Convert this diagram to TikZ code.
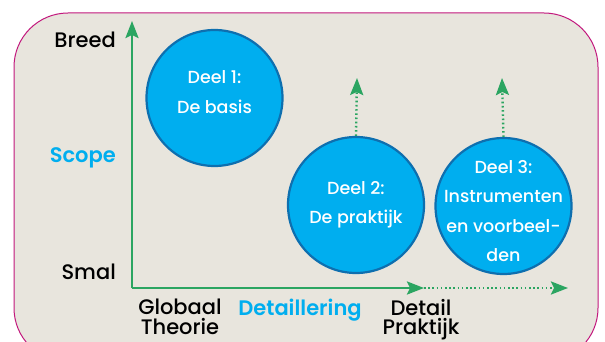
\documentclass[tikz,border=0pt]{standalone}
\usepackage{fontspec}
\setmainfont{Poppins}[UprightFont=* Medium, BoldFont=* SemiBold]
\usetikzlibrary{arrows.meta}
\definecolor{framefill}{HTML}{E8E5DD}
\definecolor{frameline}{HTML}{C2187D}
\definecolor{axisgreen}{HTML}{2BA561}
\definecolor{cyanblue}{HTML}{00AEEF}
\definecolor{circline}{HTML}{0E6FAF}
\tikzset{
  axis/.style={draw=axisgreen, line width=2.6pt},
  dotaxis/.style={draw=axisgreen, line width=2.4pt, dash pattern=on 1.6pt off 2.6pt},
  tip/.style={-{Stealth[length=17pt,width=13pt,inset=3pt]}},
  deel/.style={circle, fill=cyanblue, draw=circline, line width=2.2pt, minimum size=136pt, inner sep=0pt},
  deeltext/.style={text=white, align=center, inner sep=0pt, font=\fontsize{17.5}{29.5}\selectfont},
  lab/.style={font=\fontsize{21}{19.5}\selectfont, text=black, inner sep=0pt},
  key/.style={font=\fontsize{21}{19.5}\selectfont\bfseries, text=cyanblue, inner sep=0pt},
}
\begin{document}
\begin{tikzpicture}[x=1pt,y=-1pt]
\useasboundingbox (0,0) rectangle (605,342);
\fill[framefill, draw=frameline, line width=1pt, rounded corners=54pt] (14,13) rectangle (598,362);
\coordinate (ytip) at (132,21);
\coordinate (origin) at (132,288);
\coordinate (xmid) at (424,288);
\coordinate (xtip) at (568,288);
\draw[axis, tip, line join=miter] (origin) -- (ytip);
\draw[axis, tip] (origin) -- (xmid);
\draw[dotaxis, tip] (xmid) -- (xtip);
\node[deel] (d1) at (214.5,98) {};
\node[deel] (d2) at (356,205) {};
\node[deel] (d3) at (503.5,206) {};
\node[deeltext] (t1) at ([yshift=6pt]d1.center) {Deel 1:\\De basis};
\node[deeltext] (t2) at (d2.center) {Deel 2:\\De praktijk};
\node[deeltext] (t3) at ([yshift=-5pt]d3.center) {Deel 3:\\Instrumenten\\en voorbeel-\\den};
\coordinate (u2) at (357,78);
\coordinate (u3) at (502,78);
\draw[dotaxis, tip] (d2.north) -- (u2);
\draw[dotaxis, tip] (d3.north) -- (u3);
\node[lab, anchor=east] (breed) at (116,40) {Breed};
\node[key, anchor=east] (scope) at (116,158) {Scope};
\node[lab, anchor=east] (smal) at (116,272) {Smal};
\node[lab, align=center, anchor=north, font=\fontsize{21}{19.5}\selectfont] (glob) at (180,299) {Globaal\\Theorie};
\node[key, anchor=north] (det) at (300,299) {Detaillering};
\node[lab, align=center, anchor=north, font=\fontsize{21}{19.5}\selectfont] (prak) at (421,299) {Detail\\Praktijk};
\end{tikzpicture}
\end{document}
